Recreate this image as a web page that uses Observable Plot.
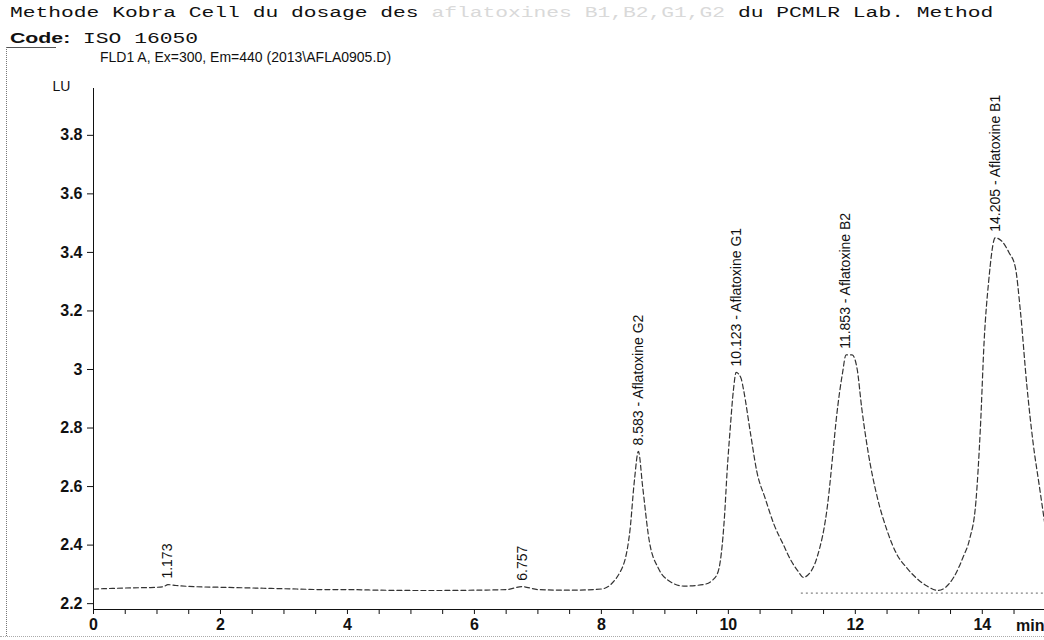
<!DOCTYPE html>
<html>
<head>
<meta charset="utf-8">
<script src="https://cdn.jsdelivr.net/npm/d3@7"></script>
<script src="https://cdn.jsdelivr.net/npm/@observablehq/plot@0.6"></script>
<style>
  body { margin: 0; background: #fff; width: 1044px; height: 640px; overflow: hidden; position: relative;
         font-family: "Liberation Sans", Arial, sans-serif; }
  #hdr { position: relative; height: 70px; }
  .mono { position: absolute; left: 10px; font-family: "Liberation Mono", "DejaVu Sans Mono", monospace;
          font-size: 14px; line-height: 14px; transform: scaleX(1.52); transform-origin: 0 0;
          white-space: pre; color: #111; }
  .faded { color: #d9d9d9; }
  #sig { position: absolute; left: 100px; top: 50px; font-size: 14px; line-height: 14px; color: #111; white-space: pre; }
  .deco { position: absolute; z-index: 2; pointer-events: none; }
  #chart { display: block; }
  #chart g[aria-label^="x-axis"] text, #chart g[aria-label^="y-axis"] text { font-weight: bold; font-size: 16px; }
</style>
</head>
<body>
<div id="hdr">
  <div class="mono" style="top:6px">Methode Kobra Cell du dosage des <span class="faded">aflatoxines B1,B2,G1,G2 </span>du PCMLR Lab. Method</div>
  <div class="mono" style="top:31px"><b style="font-family:'Liberation Sans',Arial,sans-serif">Code:</b> ISO 16050</div>
  <div id="sig">FLD1 A, Ex=300, Em=440 (2013\AFLA0905.D)</div>
</div>
<div id="chart"></div>
<div class="deco" style="left:6px;top:47px;width:50px;border-top:1px solid #555"></div>
<div class="deco" style="left:6px;top:47px;height:589px;border-left:1px dotted #777"></div>
<div class="deco" style="left:0;top:636px;width:1044px;border-top:1px dotted #aaa"></div>
<script>
// Chromatogram trace (retention time in min, signal in LU)
const traceTime = [0, 0.3, 0.6, 0.9, 1.1, 1.173, 1.3, 1.6, 2.0, 2.4, 2.8, 3.2, 3.6, 4.0, 4.5, 5.0, 5.5, 6.0, 6.5, 6.757,
  7.0, 7.5, 8.0, 8.3, 8.45, 8.52, 8.583, 8.65, 8.75, 8.9, 9.05, 9.3, 9.6, 9.75, 9.84, 9.94, 9.98, 10.03, 10.08, 10.123,
  10.2, 10.24, 10.35, 10.45, 10.58, 10.72, 10.87, 10.98, 11.1, 11.18, 11.3, 11.4, 11.57, 11.65, 11.7, 11.8, 11.853, 11.95,
  12.03, 12.1, 12.2, 12.35, 12.5, 12.65, 12.82, 13.0, 13.13, 13.3, 13.55, 13.7, 13.8, 13.9, 13.97, 14.03, 14.1, 14.205,
  14.3, 14.42, 14.52, 14.6, 14.7, 14.8, 14.9, 14.98];
const traceLU = [2.25, 2.252, 2.254, 2.255, 2.258, 2.265, 2.262, 2.258, 2.256, 2.254, 2.252, 2.25, 2.248, 2.248, 2.246, 2.245, 2.245, 2.246, 2.248, 2.258,
  2.248, 2.246, 2.25, 2.31, 2.45, 2.62, 2.72, 2.6, 2.42, 2.32, 2.28, 2.26, 2.265, 2.28, 2.31, 2.5, 2.65, 2.8, 2.93, 2.99,
  2.97, 2.93, 2.78, 2.65, 2.56, 2.47, 2.4, 2.35, 2.31, 2.29, 2.31, 2.36, 2.55, 2.72, 2.83, 2.99, 3.05, 3.05,
  3.0, 2.87, 2.72, 2.56, 2.45, 2.37, 2.32, 2.28, 2.26, 2.245, 2.29, 2.36, 2.42, 2.55, 2.8, 3.1, 3.3, 3.45,
  3.44, 3.4, 3.35, 3.2, 2.95, 2.75, 2.6, 2.48];

// Peak annotations
const peakTimes = [1.173, 6.757, 8.583, 10.123, 11.853, 14.205];
const peakHeights = [2.265, 2.258, 2.72, 2.99, 3.05, 3.45];
const peakNames = ["", "", "Aflatoxine G2", "Aflatoxine G1", "Aflatoxine B2", "Aflatoxine B1"];

// Integration baseline
const baseStart = [11.15];
const baseEnd = [14.98];
const baseLevel = [2.236];

// Axis ticks
const xLabelTicks = [0, 2, 4, 6, 8, 10, 12, 14];
const xMinorTicks = d3.range(0, 15, 0.5);
const yTicks = [2.2, 2.4, 2.6, 2.8, 3.0, 3.2, 3.4, 3.6, 3.8];

const trace = traceTime.map((t, i) => ({t, v: traceLU[i]}));
const peaks = peakTimes.map((t, i) => ({
  t, v: peakHeights[i],
  label: peakNames[i] ? `${t.toFixed(3)} - ${peakNames[i]}` : t.toFixed(3)
}));
const baselines = baseStart.map((s, i) => ({x1: s, x2: baseEnd[i], y: baseLevel[i]}));

const chart = Plot.plot({
  width: 1044,
  height: 570,
  marginLeft: 93,
  marginRight: 0,
  marginTop: 18,
  marginBottom: 31,
  style: {fontFamily: "'Liberation Sans', Arial, sans-serif", fontSize: "15px", color: "#111", background: "white"},
  x: {
    domain: [0, 14.98],
    ticks: xMinorTicks,
    tickFormat: d => xLabelTicks.includes(d) ? String(d) : "",
    tickSize: 5,
    tickPadding: 4,
    line: true,
    label: null
  },
  y: {
    domain: [2.18, 3.96],
    ticks: yTicks,
    tickFormat: d => String(+d.toFixed(1)),
    tickSize: 6,
    tickPadding: 5,
    line: true,
    label: null
  },
  marks: [
    Plot.ruleY(baselines, {x1: "x1", x2: "x2", y: "y", stroke: "#666", strokeWidth: 1, strokeDasharray: "2,3"}),
    Plot.line(trace, {x: "t", y: "v", stroke: "#333", strokeWidth: 1.2, strokeDasharray: "5,3", curve: "monotone-x"}),
    Plot.text(peaks, {x: "t", y: "v", text: "label", rotate: -90, textAnchor: "start", dy: -6,
      fontSize: 14, fill: "#111"}),
    Plot.text(["LU"], {frameAnchor: "top-left", dx: -41, dy: 2, lineAnchor: "bottom", fontSize: 14, fill: "#111"}),
    Plot.text(["min"], {frameAnchor: "bottom-right", dy: 16, textAnchor: "end", lineAnchor: "middle", fontSize: 16, fontWeight: "bold", fill: "#111"})
  ]
});
document.getElementById("chart").appendChild(chart);
</script>
</body>
</html>
